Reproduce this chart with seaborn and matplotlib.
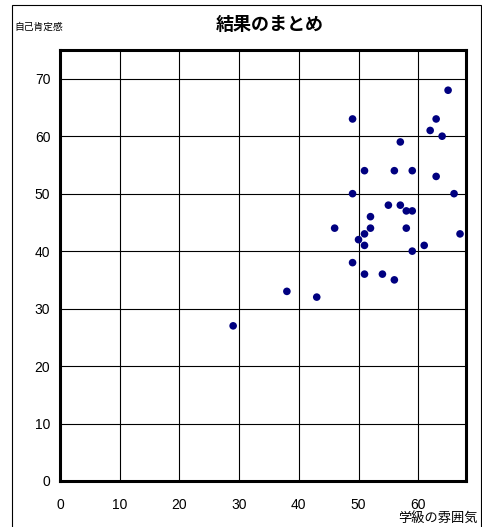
import numpy as np
import pandas as pd
import seaborn as sns
import matplotlib.pyplot as plt
from matplotlib.patches import Rectangle

# 学級の雰囲気 (x) と 自己肯定感 (y)
atmosphere = [65, 49, 63, 62, 64, 57, 51, 56, 59, 63, 49, 66, 55, 57, 58, 59, 52,
              46, 52, 58, 67, 51, 50, 51, 61, 59, 49, 38, 43, 51, 54, 56, 29]
esteem = [68, 63, 63, 61, 60, 59, 54, 54, 54, 53, 50, 50, 48, 48, 47, 47, 46,
          44, 44, 44, 43, 43, 42, 41, 41, 40, 38, 33, 32, 36, 36, 35, 27]
xticks = [0, 10, 20, 30, 40, 50, 60]
yticks = [0, 10, 20, 30, 40, 50, 60, 70]

df = pd.DataFrame({"x": atmosphere, "y": esteem})

sns.set_theme(style="white")
plt.rcParams['font.family'] = ['Noto Sans CJK JP', 'DejaVu Sans']
plt.rcParams['text.color'] = 'black'
plt.rcParams['xtick.color'] = 'black'
plt.rcParams['ytick.color'] = 'black'

fig = plt.figure(figsize=(4.82, 5.27), dpi=100)
ax = fig.add_axes([60 / 482, 1 - 481 / 527, 406 / 482, 431 / 527])

sns.scatterplot(data=df, x="x", y="y", ax=ax, color="#000080",
                s=30, edgecolor="none", zorder=3)

ax.set_xlim(0, 68)
ax.set_ylim(0, 75)
ax.set_xticks(xticks)
ax.set_yticks(yticks)
ax.tick_params(length=0, labelsize=10, pad=7)
ax.tick_params(axis="x", pad=12)
for lbl in ax.get_xticklabels() + ax.get_yticklabels():
    lbl.set_family(['Liberation Sans', 'DejaVu Sans'])
ax.grid(True, color="black", linewidth=0.8)
for sp in ax.spines.values():
    sp.set_visible(True)
    sp.set_color("black")
    sp.set_linewidth(2.2)
ax.set_xlabel("")
ax.set_ylabel("")

fig.text(270 / 482, 1 - 24 / 527, "結果のまとめ", ha="center", va="center",
         fontsize=13, fontweight="bold")
fig.text(14 / 482, 1 - 27 / 527, "自己肯定感", ha="left", va="center", fontsize=7)
fig.text(478 / 482, 1 - 518 / 527, "学級の雰囲気", ha="right", va="center", fontsize=9.5)

# 外枠
fig.patches.append(Rectangle((12 / 482, -0.1), 469 / 482, 1.1 - 5 / 527,
                             transform=fig.transFigure, fill=False,
                             edgecolor="black", linewidth=0.8))

fig.savefig("out.png", dpi=100)
